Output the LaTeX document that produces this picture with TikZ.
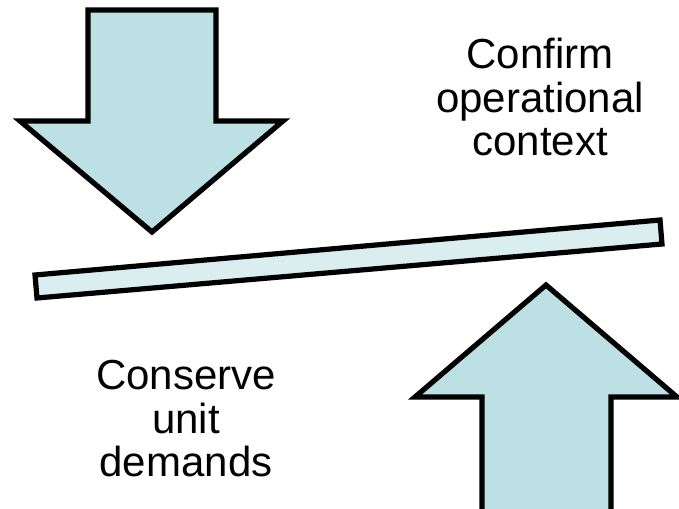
\documentclass[tikz,border=0pt]{standalone}
\usepackage{fontspec}
\setmainfont{Liberation Sans}
\definecolor{arrowfill}{RGB}{188,224,227}
\definecolor{barfill}{RGB}{218,237,239}
\tikzset{
  bigarrow/.style={draw=black, fill=arrowfill, line width=5.2pt, line join=miter},
  plank/.style={draw=black, fill=barfill, line width=5.2pt, line join=miter},
  label/.style={align=center, font=\fontsize{42}{43.5}\selectfont, inner sep=0pt}
}
\begin{document}
\begin{tikzpicture}[x=1pt,y=-1pt]
\useasboundingbox (0,0) rectangle (679,508);
% down arrow
\draw[bigarrow] (88,10) -- (216,10) -- (216,121) -- (283,121) -- (152,232) -- (20,121) -- (88,121) -- cycle;
% plank
\draw[plank] (35,275) -- (660,220) -- (662,244) -- (37,298) -- cycle;
% up arrow
\draw[bigarrow] (482,515) -- (482,397) -- (415,397) -- (546,285) -- (677,397) -- (611,397) -- (611,515);
% texts
\node[label] (confirm) at (540,97) {Confirm\\operational\\context};
\node[label] (conserve) at (186,419) {Conserve\\unit\\demands};
\end{tikzpicture}
\end{document}
